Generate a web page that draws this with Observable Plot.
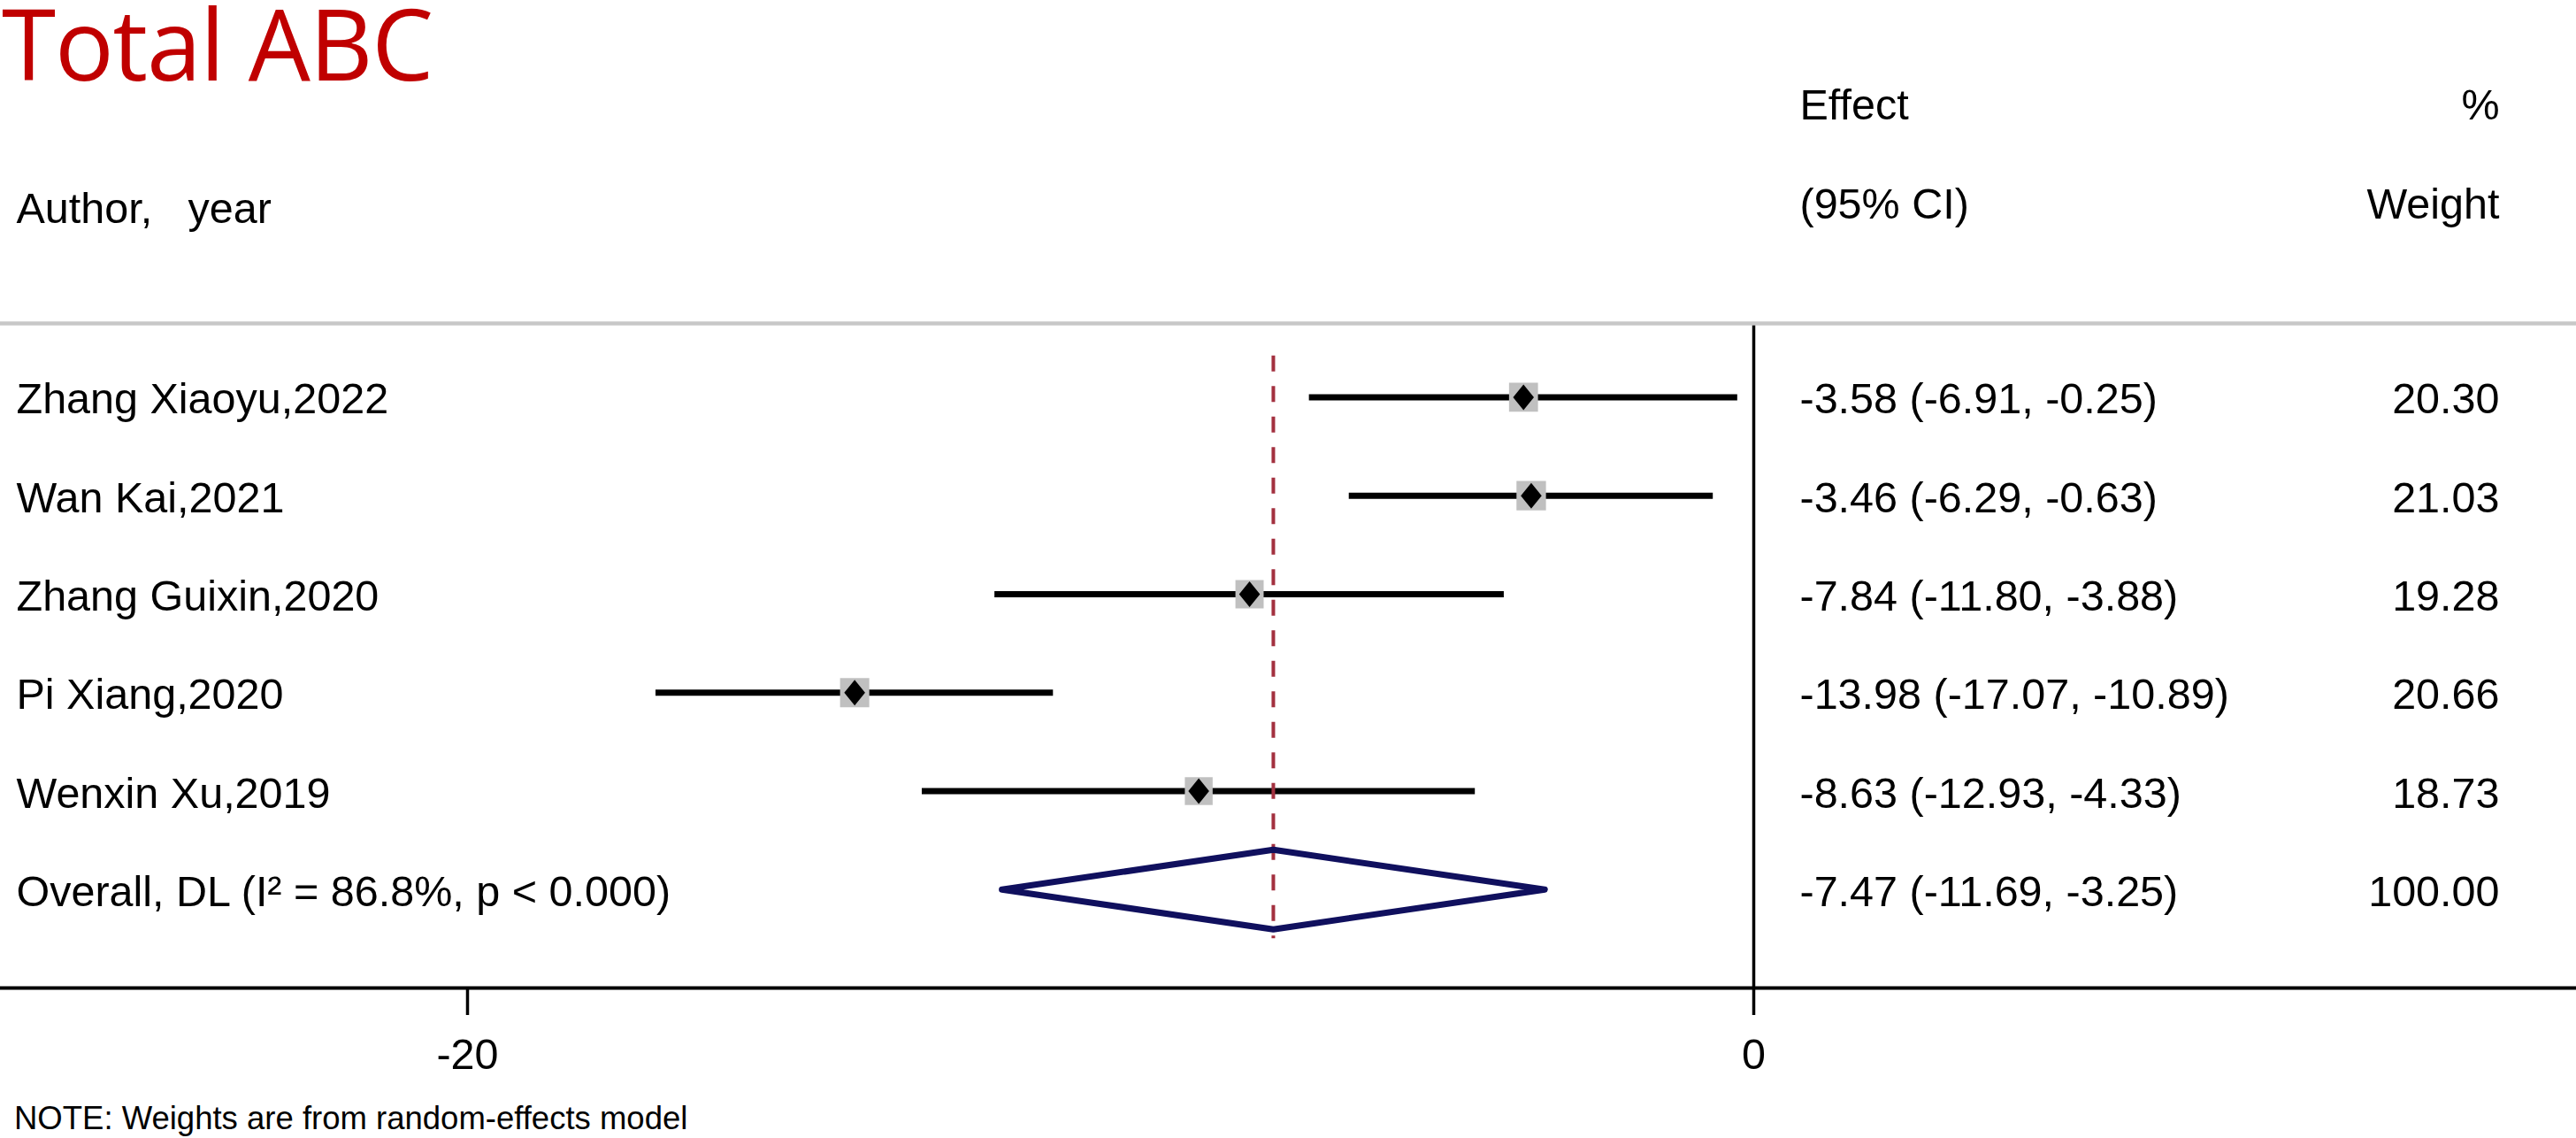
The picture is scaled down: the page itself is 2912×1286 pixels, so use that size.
<!DOCTYPE html>
<html>
<head>
<meta charset="utf-8">
<script src="https://cdn.jsdelivr.net/npm/d3@7"></script>
<script src="https://cdn.jsdelivr.net/npm/@observablehq/plot@0.6"></script>
<style>
  html, body { margin: 0; padding: 0; background: #fff; }
  body { width: 2912px; height: 1286px; overflow: hidden; position: relative; }
  #title { position: absolute; left: 2px; top: 8px; height: 80px; line-height: 80px;
           font-family: "Open Sans", "Noto Sans", sans-serif; font-size: 111px;
           letter-spacing: -1.2px; color: #c00000; white-space: nowrap; }
  #chart { position: absolute; left: 0; top: 80px; }
  #note { position: absolute; left: 16px; top: 1244px; height: 40px; line-height: 40px;
          font-family: "Liberation Sans", Arial, sans-serif; font-size: 36.5px; color: #000; white-space: nowrap; }
</style>
</head>
<body>
<div id="chart"></div>
<div id="title">Total ABC</div>
<div id="note">NOTE: Weights are from random-effects model</div>
<script>
// ---- data ----
const studies = ["Zhang Xiaoyu,2022", "Wan Kai,2021", "Zhang Guixin,2020", "Pi Xiang,2020", "Wenxin Xu,2019"];
const effects = [-3.58, -3.46, -7.84, -13.98, -8.63];
const ciLow = [-6.91, -6.29, -11.80, -17.07, -12.93];
const ciHigh = [-0.25, -0.63, -3.88, -10.89, -4.33];
const weights = [20.30, 21.03, 19.28, 20.66, 18.73];
const overallLabel = "Overall, DL (I\u00B2 = 86.8%, p < 0.000)";
const overallEffect = -7.47;
const overallLow = -11.69;
const overallHigh = -3.25;
const overallWeight = 100.00;
const xTicks = [-20, 0];
const headerLeft = "Author,\u00A0\u00A0 year";
const headerEffect = ["Effect", "(95% CI)"];
const headerWeight = ["%", "Weight"];

// ---- derived tables ----
const rows = studies.map((s, i) => ({
  label: s, est: effects[i], lo: ciLow[i], hi: ciHigh[i], w: weights[i], row: i
}));
const overallRow = studies.length;
const allRows = [...rows, {label: overallLabel, est: overallEffect, lo: overallLow, hi: overallHigh, w: overallWeight, row: overallRow}];
const fmt = v => v.toFixed(2);
allRows.forEach(d => { d.ci = `${fmt(d.est)} (${fmt(d.lo)}, ${fmt(d.hi)})`; d.wt = fmt(d.w); });

const halfH = 0.404; // diamond half-height in row units (style)
const diamond = [
  {x: overallLow, y: overallRow},
  {x: overallEffect, y: overallRow - halfH},
  {x: overallHigh, y: overallRow},
  {x: overallEffect, y: overallRow + halfH},
  {x: overallLow, y: overallRow}
];

// slightly tall rhombus marker (Stata-like)
const tallDiamond = {
  draw(ctx, size) {
    const s = Math.sqrt(size);
    const hw = s * 0.52, hh = s * 0.64;
    ctx.moveTo(0, -hh); ctx.lineTo(hw, 0); ctx.lineTo(0, hh); ctx.lineTo(-hw, 0); ctx.closePath();
  }
};

const FONT = '"Liberation Sans", Arial, sans-serif';
const FS = 48.5;
const W = 2912, H = 1164;
const frameTop = -0.75, frameBottom = overallRow + 1;

const chart = Plot.plot({
  width: W, height: H,
  marginLeft: 0, marginRight: 0, marginTop: 0, marginBottom: 128,
  x: {domain: [-20, 0], range: [528, 1982]},
  y: {domain: [frameTop, frameBottom], range: [285, 1036], axis: null},
  r: {type: "sqrt", domain: [0, 100], range: [0, 41]},
  style: {fontFamily: FONT, fontSize: FS + "px", color: "#000", background: "transparent", overflow: "visible"},
  marks: [
    // zero line
    Plot.ruleX([0], {y1: frameTop, y2: frameBottom, stroke: "#000", strokeWidth: 3.5}),
    // header separator
    Plot.ruleY([frameTop], {stroke: "#c8c8c8", strokeWidth: 4.5}),
    // axis line
    Plot.ruleY([frameBottom], {stroke: "#000", strokeWidth: 4}),
    Plot.axisX({ticks: xTicks, tickSize: 31, tickPadding: 26, fontSize: FS, strokeWidth: 3.5,
                tickFormat: d => String(d), label: null, fill: "#000", stroke: "#000"}),
    // CI lines
    Plot.ruleY(rows, {y: "row", x1: "lo", x2: "hi", stroke: "#000", strokeWidth: 7}),
    // weight squares
    Plot.dot(rows, {x: "est", y: "row", r: "w", symbol: "square", fill: "#c0c0c0", stroke: null}),
    // point estimates
    Plot.dot(rows, {x: "est", y: "row", r: 12.8, symbol: tallDiamond, fill: "#000", stroke: null}),
    // overall effect line
    Plot.ruleX([overallEffect], {y1: -0.42, y2: overallRow + 0.5, stroke: "#a3303f", strokeWidth: 4, strokeDasharray: "18,16.5"}),
    // overall diamond
    Plot.line(diamond, {x: "x", y: "y", stroke: "#10105e", strokeWidth: 7, strokeLinejoin: "round", fill: "none"}),
    // headers
    Plot.text([headerLeft], {text: d => d, frameAnchor: "top-left", dx: 18, dy: 171, lineAnchor: "bottom", textAnchor: "start", fontSize: FS, fill: "#000"}),
    Plot.text([headerEffect[0]], {text: d => d, frameAnchor: "top-left", dx: 2034, dy: 54, lineAnchor: "bottom", textAnchor: "start", fontSize: FS, fill: "#000"}),
    Plot.text([headerEffect[1]], {text: d => d, frameAnchor: "top-left", dx: 2034, dy: 166, lineAnchor: "bottom", textAnchor: "start", fontSize: FS, fill: "#000"}),
    Plot.text([headerWeight[0]], {text: d => d, frameAnchor: "top-right", dx: -87, dy: 54, lineAnchor: "bottom", textAnchor: "end", fontSize: FS, fill: "#000"}),
    Plot.text([headerWeight[1]], {text: d => d, frameAnchor: "top-right", dx: -87, dy: 166, lineAnchor: "bottom", textAnchor: "end", fontSize: FS, fill: "#000"}),
    // row texts
    Plot.text(allRows, {y: "row", text: "label", frameAnchor: "left", dx: 18, dy: 3, textAnchor: "start", fontSize: FS, fill: "#000"}),
    Plot.text(allRows, {y: "row", text: "ci", frameAnchor: "left", dx: 2034, dy: 3, textAnchor: "start", fontSize: FS, fill: "#000"}),
    Plot.text(allRows, {y: "row", text: "wt", frameAnchor: "right", dx: -87, dy: 3, textAnchor: "end", fontSize: FS, fill: "#000"})
  ]
});
document.getElementById("chart").appendChild(chart);
</script>
</body>
</html>
